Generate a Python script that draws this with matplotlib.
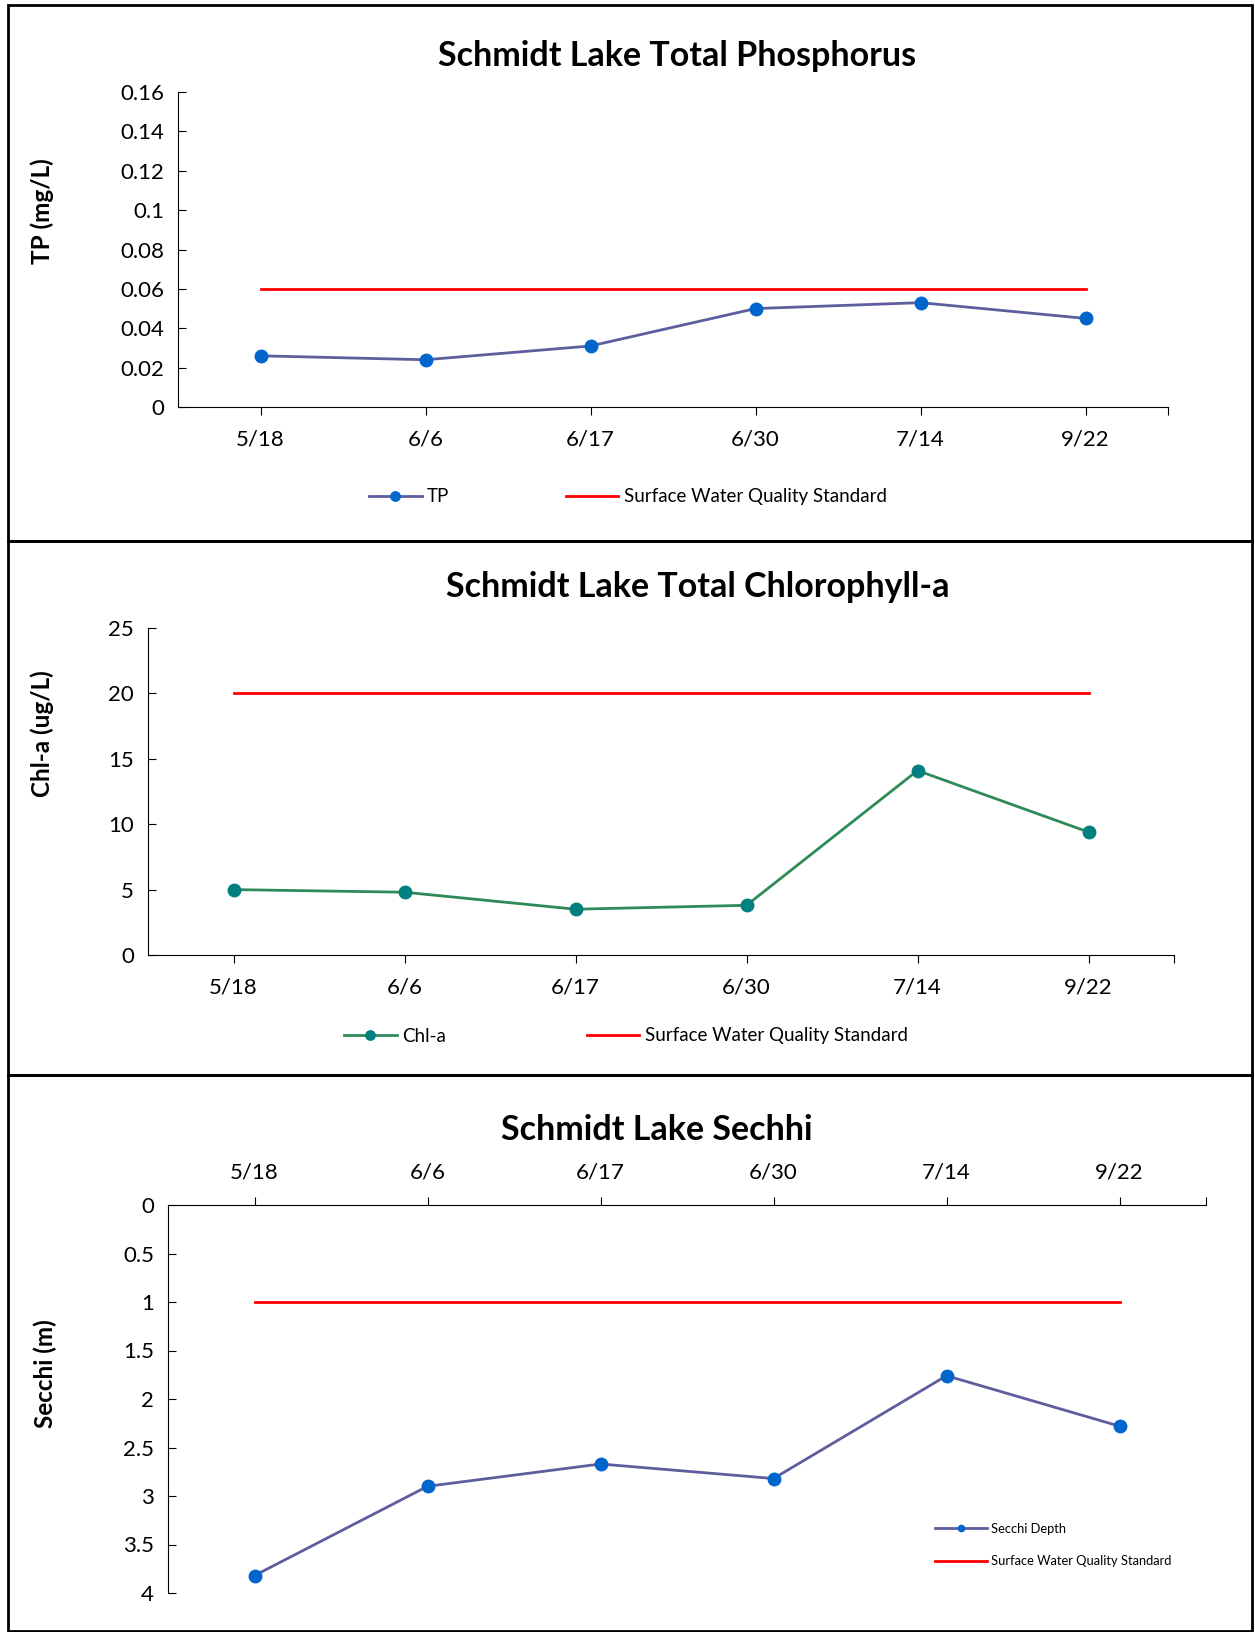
import numpy as np
import matplotlib.pyplot as plt
from matplotlib.patches import Rectangle

plt.rcParams['font.family'] = ['Lato', 'DejaVu Sans']

# sampling dates
dates = ['5/18', '6/6', '6/17', '6/30', '7/14', '9/22']

# total phosphorus (mg/L)
tp = [0.026, 0.024, 0.031, 0.050, 0.053, 0.045]
tp_std = [0.06] * 6

# chlorophyll-a (ug/L)
chla = [5.0, 4.8, 3.5, 3.8, 14.1, 9.4]
chla_std = [20] * 6

# secchi depth (m)
secchi = [3.82, 2.90, 2.67, 2.82, 1.76, 2.28]
secchi_std = [1.0] * 6

W, H = 1255, 1632
fig = plt.figure(figsize=(W / 100, H / 100), dpi=100)


def fx(px):
    return px / W


def fy(py):
    return 1 - py / H


def axes_px(left, top, right, bottom):
    return fig.add_axes([fx(left), fy(bottom), fx(right - left), (bottom - top) / H])


# panel borders
for top, bot in [(5, 541), (541, 1075), (1075, 1631)]:
    fig.add_artist(Rectangle((fx(8), fy(bot)), fx(1252 - 8), (bot - top) / H,
                             transform=fig.transFigure, fill=False,
                             edgecolor='black', linewidth=2))

x = np.arange(len(dates))
line_purple = '#5E5E9E'
dot_blue = '#0066CC'
red = '#FF0000'


def style(ax, top_axis=False):
    for s in ['right', 'bottom' if top_axis else 'top']:
        ax.spines[s].set_visible(False)
    ax.set_xlim(-0.5, 5.5)
    ax.set_xticks(list(x) + [5.5])
    ax.set_xticklabels(dates + [''])
    ax.tick_params(axis='y', direction='in', length=6, labelsize=16, pad=10)
    ax.tick_params(axis='x', direction='out', length=6, labelsize=16, pad=10)
    if top_axis:
        ax.xaxis.tick_top()


# ---- Panel 1: Total Phosphorus ----
ax1 = axes_px(178, 92, 1168, 407)
l1, = ax1.plot(x, tp, color=line_purple, linewidth=2, marker='o',
               markersize=9, markerfacecolor=dot_blue, markeredgecolor=dot_blue)
l2, = ax1.plot(x, tp_std, color=red, linewidth=2)
ax1.set_ylim(0, 0.16)
ax1.set_yticks(np.arange(0, 0.161, 0.02))
ax1.set_yticklabels(['0', '0.02', '0.04', '0.06', '0.08', '0.1', '0.12', '0.14', '0.16'])
style(ax1)
fig.text(fx(677), fy(56), 'Schmidt Lake Total Phosphorus', ha='center', va='center',
         fontsize=24.5, fontweight='bold')
fig.text(fx(42), fy(211), 'TP (mg/L)', rotation=90, ha='center', va='center',
         fontsize=17.5, fontweight='bold')
fig.legend([l1, l2], ['TP', 'Surface Water Quality Standard'], loc='center',
           bbox_to_anchor=(fx(628), fy(497)), ncol=2, frameon=False, fontsize=13.5,
           columnspacing=6.2, handlelength=2.8, handletextpad=0.3, markerscale=0.75)

# ---- Panel 2: Chlorophyll-a ----
ax2 = axes_px(148, 628, 1174, 955)
c1, = ax2.plot(x, chla, color='#2E8B57', linewidth=2, marker='o',
               markersize=9, markerfacecolor='#008080', markeredgecolor='#008080')
c2, = ax2.plot(x, chla_std, color=red, linewidth=2)
ax2.set_ylim(0, 25)
ax2.set_yticks(range(0, 26, 5))
style(ax2)
fig.text(fx(698), fy(587), 'Schmidt Lake Total Chlorophyll-a', ha='center', va='center',
         fontsize=24.5, fontweight='bold')
fig.text(fx(42), fy(734), 'Chl-a (ug/L)', rotation=90, ha='center', va='center',
         fontsize=17.5, fontweight='bold')
fig.legend([c1, c2], ['Chl-a', 'Surface Water Quality Standard'], loc='center',
           bbox_to_anchor=(fx(626), fy(1036)), ncol=2, frameon=False, fontsize=13.5,
           columnspacing=7.5, handlelength=2.8, handletextpad=0.3, markerscale=0.75)

# ---- Panel 3: Secchi ----
ax3 = axes_px(168, 1205, 1206, 1593)
s1, = ax3.plot(x, secchi, color=line_purple, linewidth=2, marker='o',
               markersize=9, markerfacecolor=dot_blue, markeredgecolor=dot_blue)
s2, = ax3.plot(x, secchi_std, color=red, linewidth=2)
ax3.set_ylim(4, 0)
ax3.set_yticks(np.arange(0, 4.01, 0.5))
ax3.set_yticklabels(['0', '0.5', '1', '1.5', '2', '2.5', '3', '3.5', '4'])
style(ax3, top_axis=True)
fig.text(fx(657), fy(1130), 'Schmidt Lake Sechhi', ha='center', va='center',
         fontsize=24.5, fontweight='bold')
fig.text(fx(45), fy(1374), 'Secchi (m)', rotation=90, ha='center', va='center',
         fontsize=17.5, fontweight='bold')
fig.legend([s1, s2], ['Secchi Depth', 'Surface Water Quality Standard'], loc='center',
           bbox_to_anchor=(fx(1053), fy(1545)), ncol=1, frameon=False, fontsize=9.3,
           handlelength=4, handletextpad=0.3, labelspacing=1.6, markerscale=0.5)

fig.savefig('out.png', dpi=100)
